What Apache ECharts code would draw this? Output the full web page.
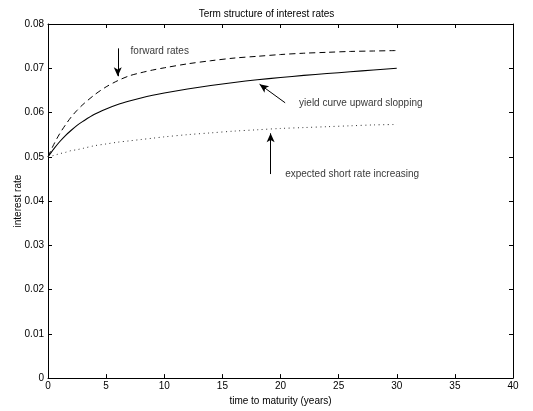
<!DOCTYPE html>
<html>
<head>
<meta charset="utf-8">
<script src="https://cdn.jsdelivr.net/npm/echarts@6/dist/echarts.min.js"></script>
<style>
html,body{margin:0;padding:0;background:#fff;}
#chart{width:533px;height:411px;}
</style>
</head>
<body>
<div id="chart"></div>
<script>
// ---- data ----
var maturities = [0, 0.5, 1, 1.5, 2, 2.5, 3, 4, 5, 6, 7, 8, 9, 10, 12, 14, 16, 18, 20, 22, 24, 26, 28, 30];
var yieldCurve = [0.0500, 0.0518, 0.0534, 0.0548, 0.0560, 0.0571, 0.0580, 0.0596, 0.0608, 0.0618, 0.0626, 0.0633, 0.0639, 0.0644, 0.0653, 0.0661, 0.0668, 0.0674, 0.0679, 0.0684, 0.0688, 0.0692, 0.0696, 0.0700];
var forwardRates = [0.0500, 0.0528, 0.0552, 0.0572, 0.0590, 0.0605, 0.0618, 0.0640, 0.0658, 0.0672, 0.0683, 0.0690, 0.0696, 0.0701, 0.0710, 0.0717, 0.0723, 0.0727, 0.0731, 0.0734, 0.0736, 0.0738, 0.0739, 0.0740];
var expectedShort = [0.0500, 0.0503, 0.0507, 0.0510, 0.0514, 0.0516, 0.0519, 0.0525, 0.0529, 0.0533, 0.0536, 0.0539, 0.0542, 0.0545, 0.0550, 0.0554, 0.0558, 0.0561, 0.0564, 0.0566, 0.0568, 0.0570, 0.0572, 0.0573];
var xTicks = [0, 5, 10, 15, 20, 25, 30, 35, 40];
var yTicks = [0, 0.01, 0.02, 0.03, 0.04, 0.05, 0.06, 0.07, 0.08];
var titleText = 'Term structure of interest rates';
var xLabel = 'time to maturity (years)';
var yLabel = 'interest rate';
// annotations: [x, y, text]
var annotTexts = [
  [7.1, 0.0738, 'forward rates'],
  [21.6, 0.0622, 'yield curve upward slopping'],
  [20.4, 0.0461, 'expected short rate increasing']
];
// arrows: [tailX, tailY, headX, headY]
var arrows = [
  [6.0, 0.0745, 6.0, 0.0682],
  [20.4, 0.0622, 18.2, 0.0664],
  [19.15, 0.0461, 19.15, 0.0553]
];

function pairs(xs, ys) { return xs.map(function (x, i) { return [x, ys[i]]; }); }

var FONT = 'Liberation Sans, Arial, sans-serif';
var chart = echarts.init(document.getElementById('chart'), null, {renderer: 'canvas'});

var axisCommon = {
  type: 'value',
  axisLine: {show: true, onZero: false, lineStyle: {color: '#000', width: 1}},
  axisTick: {show: true, inside: true, length: 4, lineStyle: {color: '#000', width: 1}},
  splitLine: {show: false}
};

var option = {
  animation: false,
  backgroundColor: '#fff',
  title: {
    text: titleText, left: 'center', top: 4,
    textStyle: {fontFamily: FONT, fontSize: 10, fontWeight: 'normal', color: '#000'}
  },
  grid: {left: 48, right: 20, top: 24, bottom: 31},
  xAxis: [
    Object.assign({}, axisCommon, {
      position: 'bottom', min: xTicks[0], max: xTicks[xTicks.length - 1], interval: xTicks[1] - xTicks[0],
      name: xLabel, nameLocation: 'middle', nameGap: 15,
      nameTextStyle: {fontFamily: FONT, fontSize: 10, color: '#000'},
      axisLabel: {margin: 3, fontFamily: FONT, fontSize: 10, color: '#000'}
    }),
    Object.assign({}, axisCommon, {
      position: 'top', min: xTicks[0], max: xTicks[xTicks.length - 1], interval: xTicks[1] - xTicks[0],
      axisLabel: {show: false}
    })
  ],
  yAxis: [
    Object.assign({}, axisCommon, {
      position: 'left', min: yTicks[0], max: yTicks[yTicks.length - 1], interval: 0.01,
      name: yLabel, nameLocation: 'middle', nameGap: 25, nameRotate: 90, nameMoveOverlap: false,
      nameTextStyle: {fontFamily: FONT, fontSize: 10, color: '#000'},
      axisLabel: {margin: 4, fontFamily: FONT, fontSize: 10, color: '#000',
        formatter: function (v) { return v === 0 ? '0' : (+v.toFixed(2)).toString(); }}
    }),
    Object.assign({}, axisCommon, {
      position: 'right', min: yTicks[0], max: yTicks[yTicks.length - 1], interval: 0.01,
      axisLabel: {show: false}
    })
  ],
  series: [
    {
      type: 'line', name: 'forward rates', data: pairs(maturities, forwardRates),
      smooth: 0.3, showSymbol: false, symbol: 'none',
      lineStyle: {color: '#000', width: 1, type: [6, 4]}
    },
    {
      type: 'line', name: 'yield curve', data: pairs(maturities, yieldCurve),
      smooth: 0.3, showSymbol: false, symbol: 'none',
      lineStyle: {color: '#000', width: 1.1, type: 'solid'}
    },
    {
      type: 'line', name: 'expected short rate', data: pairs(maturities, expectedShort),
      smooth: 0.3, showSymbol: false, symbol: 'none',
      lineStyle: {color: '#333', width: 1, type: [1, 3.5]}
    },
    {
      type: 'scatter', data: annotTexts.map(function (a) { return {value: [a[0], a[1]], name: a[2]}; }),
      symbolSize: 0, silent: true,
      label: {show: true, position: 'right', distance: 0, formatter: '{b}',
        fontFamily: FONT, fontSize: 10, color: '#000', textBorderWidth: 0},
      markLine: {
        silent: true, symbol: ['none', 'arrow'], symbolSize: [6, 9],
        label: {show: false},
        lineStyle: {color: '#000', width: 1, type: 'solid'},
        data: arrows.map(function (a) { return [{coord: [a[0], a[1]]}, {coord: [a[2], a[3]]}]; })
      }
    }
  ]
};
chart.setOption(option);
</script>
</body>
</html>
